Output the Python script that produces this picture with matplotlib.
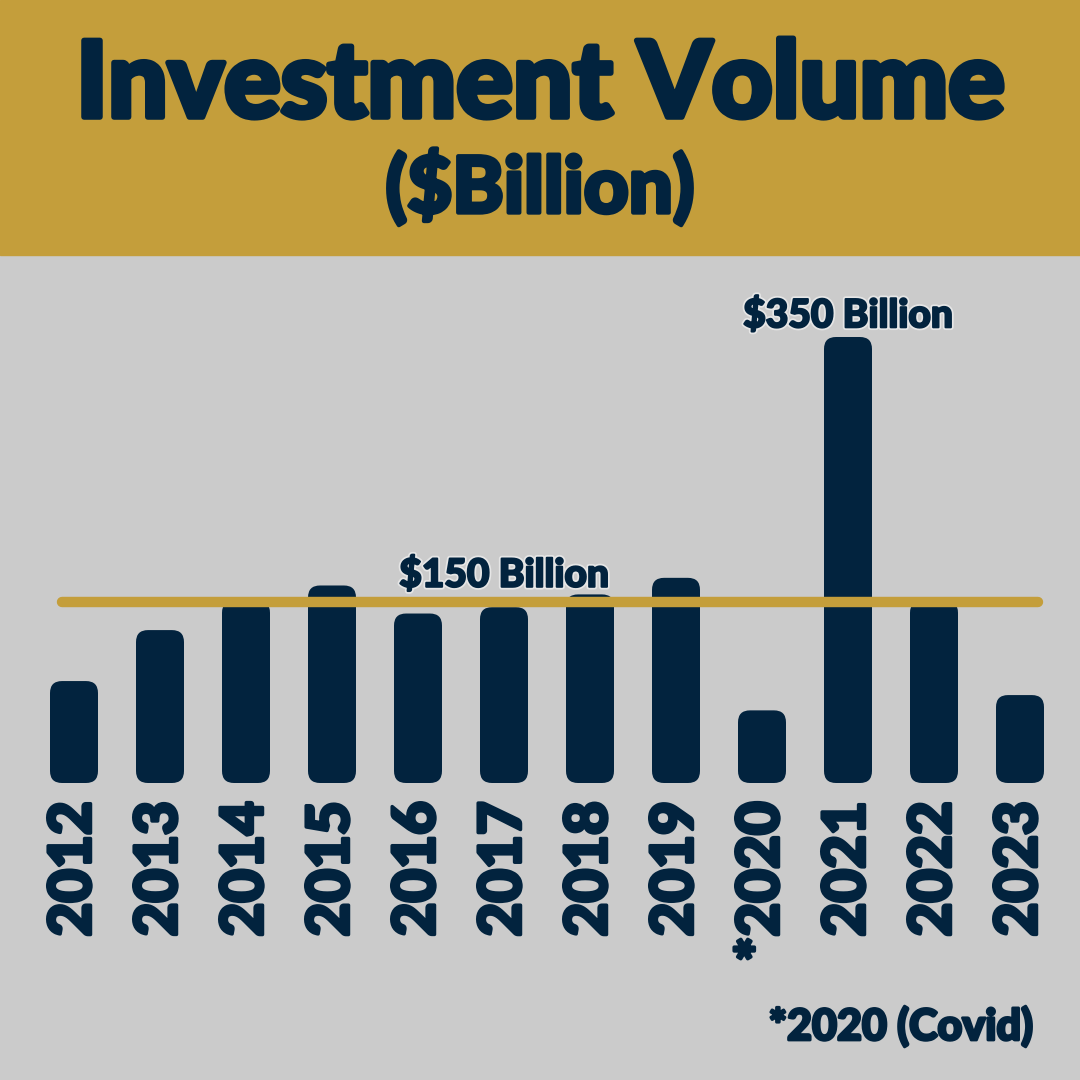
import matplotlib.pyplot as plt
import matplotlib.patheffects as pe
from matplotlib.patches import FancyBboxPatch, Rectangle

years = ['2012', '2013', '2014', '2015', '2016', '2017',
         '2018', '2019', '*2020', '2021', '2022', '2023']
volume = [80, 120, 143, 155, 133, 138, 148, 161, 57, 350, 143, 69]
ref_value = 142
ref_label = '$150 Billion'
peak_label = '$350 Billion'

NAVY = '#02233E'
GOLD = '#C49E3B'
BG = '#CBCBCB'
FONT = 'Lato'


def heavy(lw):
    # thicken the glyphs a little, the original uses a very black face
    return [pe.withStroke(linewidth=lw, foreground=NAVY)]


fig = plt.figure(figsize=(10.8, 10.8), dpi=100)
fig.patch.set_facecolor(BG)
fig.patches.append(Rectangle((0, 1 - 255 / 1080), 1, 255 / 1080,
                             transform=fig.transFigure, color=GOLD, zorder=0))

fig.text(0.5, 1 - 86 / 1080, 'Investment Volume', ha='center', va='center',
         fontsize=76, fontweight='black', family=FONT, color=NAVY,
         path_effects=heavy(4))
fig.text(0.5, 1 - 187 / 1080, '($Billion)', ha='center', va='center',
         fontsize=56, fontweight='black', family=FONT, color=NAVY,
         path_effects=heavy(3))

ax = fig.add_axes([0, 1 - 783 / 1080, 1, 528 / 1080])
ax.set_facecolor('none')
ax.set_xlim(-74 / 86, (1080 - 74) / 86)
ax.set_ylim(0, 528 / 1.2743)

w = 48 / 86
r = 12 / 86
aspect = (12 / 1.2743) / r
for i, v in enumerate(volume):
    box = FancyBboxPatch((i - w / 2, 0), w, v,
                         boxstyle=f'round,pad=0,rounding_size={r}',
                         mutation_aspect=aspect, fc=NAVY, ec='none', zorder=2)
    ax.add_patch(box)

ax.plot([-w / 2 + 0.14, len(years) - 1 + w / 2 - 0.07], [ref_value, ref_value],
        color=GOLD, lw=7.5, solid_capstyle='round', zorder=3)

outline = [pe.withStroke(linewidth=4, foreground='#E6E6E6'),
           pe.withStroke(linewidth=1.5, foreground=NAVY)]
peak = volume.index(max(volume))
ax.annotate(peak_label, (peak, volume[peak]), xytext=(0, 7), textcoords='offset points',
            ha='center', va='baseline', fontsize=28, fontweight='black', family=FONT,
            color=NAVY, path_effects=outline, zorder=4)
ax.annotate(ref_label, (5, ref_value), xytext=(0, 11), textcoords='offset points',
            ha='center', va='baseline', fontsize=28, fontweight='black', family=FONT,
            color=NAVY, path_effects=outline, zorder=4)

ax.set_xticks(range(len(years)))
ax.set_xticklabels(years, rotation=90, fontsize=42, fontweight='black',
                   family=FONT, color=NAVY)
for lab in ax.get_xticklabels():
    lab.set_path_effects(heavy(2.5))
ax.tick_params(axis='x', length=0, pad=13)
ax.set_yticks([])
for s in ax.spines.values():
    s.set_visible(False)

fig.text(1033 / 1080, 1 - 1040 / 1080, '*2020 (Covid)', ha='right', va='baseline',
         fontsize=31, fontweight='black', family=FONT, color=NAVY,
         path_effects=heavy(2))

fig.savefig('out.png', dpi=100, facecolor=fig.get_facecolor())
